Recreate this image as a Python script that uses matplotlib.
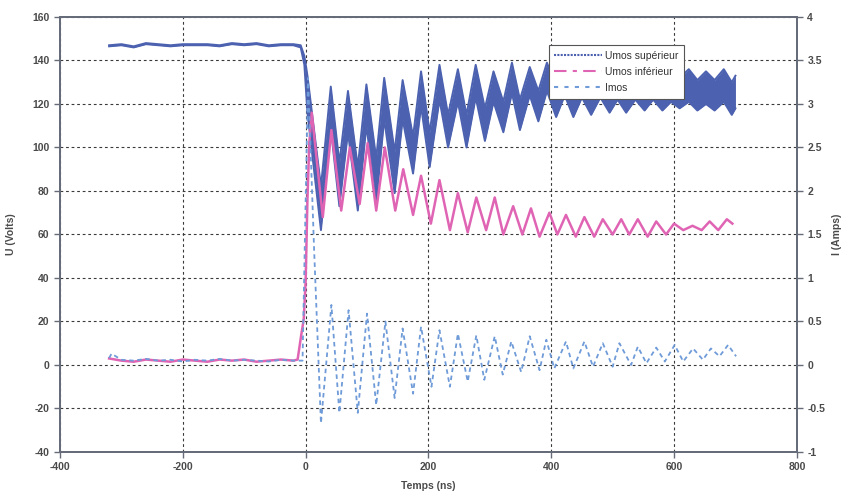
import numpy as np
import matplotlib
matplotlib.use("Agg")
import matplotlib.pyplot as plt
from matplotlib.lines import Line2D
from matplotlib.ticker import FormatStrFormatter

plt.rcParams['font.family'] = ['Liberation Sans', 'DejaVu Sans']
plt.rcParams['axes.unicode_minus'] = False

# Umos supérieur (V): band, upper / lower edge at each extremum
sup_t = [-320, -300, -280, -260, -240, -220, -200, -180, -160, -140, -120, -100, -80, -60, -40, -20, -8, -2,
         3, 25, 41, 55, 69, 85, 99, 115, 128, 145, 158, 175, 188, 202, 218, 232, 248, 262, 277, 292, 306,
         322, 336, 349, 365, 379, 393, 408, 422, 436, 450, 465, 480, 495, 508, 522, 537, 552, 566, 581,
         595, 609, 624, 638, 652, 666, 681, 694, 700]
sup_hi = [147, 147.5, 146.5, 148, 147.5, 147, 147.5, 147.5, 147.5, 147, 148, 147.5, 148, 147, 147.5, 147.5, 147, 142,
          133, 82, 128, 93, 126, 91, 129, 95, 132, 98, 131, 105, 135, 107, 138, 115, 136, 115, 138, 118, 135,
          121, 139, 122, 137, 126, 139, 128, 137, 128, 137, 129, 136, 130, 136, 131, 136, 131, 136, 132,
          135, 132, 136, 131, 135, 131, 136, 130, 133]
sup_lo = [146.5, 147, 146, 147.5, 147, 146.5, 147, 147, 147, 146.5, 147.5, 147, 147.5, 146.5, 147, 147, 146, 138,
          116, 62, 109, 73, 107, 71, 110, 75, 113, 79, 113, 88, 119, 91, 122, 100, 121, 100, 123, 103, 121,
          107, 125, 108, 124, 112, 126, 114, 124, 114, 123, 115, 123, 116, 122, 116, 122, 117, 122, 117,
          121, 118, 121, 117, 120, 117, 121, 115, 118]

# Umos inférieur (V)
inf_t = [-320, -300, -280, -260, -240, -220, -200, -180, -160, -140, -120, -100, -80, -60, -40, -20, -13, -7, -3,
         0, 3, 6, 10, 28, 42, 58, 72, 88, 101, 115, 129, 146, 159, 175, 188, 204, 218, 235, 248, 264, 278,
         294, 308, 322, 338, 353, 367, 381, 397, 410, 424, 440, 454, 470, 484, 500, 514, 527, 541, 557, 571,
         587, 600, 615, 630, 645, 658, 672, 686, 695]
inf_v = [3, 2, 1.5, 2.5, 2, 1.5, 2.5, 2, 1.5, 2.5, 2, 2.5, 1.5, 2, 2.5, 2, 2.5, 14, 21,
         38, 76, 102, 116, 68, 108, 71, 100, 74, 102, 71, 100, 71, 90, 69, 87, 65, 85, 62, 79, 61, 77,
         62, 77, 60, 73, 60, 72, 59, 70, 60, 69, 59, 68, 59, 67, 60, 67, 60, 67, 59, 66,
         60, 65, 62, 64, 62, 66, 62, 67, 65]

# Imos (A), right axis
imos_t = [-320, -316, -300, -280, -260, -240, -220, -200, -180, -160, -140, -120, -100, -80, -60, -40, -20, -5,
          4, 14, 25, 42, 55, 70, 85, 100, 115, 130, 145, 158, 175, 188, 205, 218, 235, 248, 264, 278, 291,
          308, 321, 335, 351, 365, 381, 392, 405, 424, 436, 454, 468, 484, 500, 511, 530, 541, 555, 571,
          585, 601, 615, 631, 647, 660, 674, 688, 701]
imos_v = [0.08, 0.13, 0.06, 0.05, 0.07, 0.05, 0.06, 0.04, 0.06, 0.05, 0.07, 0.05, 0.06, 0.05, 0.04, 0.06, 0.05, 0.05,
          3.3, 1.3, -0.67, 0.69, -0.55, 0.63, -0.55, 0.59, -0.46, 0.5, -0.38, 0.42, -0.33, 0.44, -0.25, 0.40,
          -0.25, 0.36, -0.19, 0.34, -0.17, 0.33, -0.11, 0.27, -0.08, 0.33, -0.06, 0.29, -0.04, 0.27, -0.04,
          0.27, -0.02, 0.25, -0.02, 0.25, 0.0, 0.21, 0.02, 0.2, 0.04, 0.23, 0.04, 0.19, 0.06, 0.19, 0.1,
          0.23, 0.1]

x_ticks = [-400, -200, 0, 200, 400, 600, 800]
u_ticks = [-40, -20, 0, 20, 40, 60, 80, 100, 120, 140, 160]
i_ticks = [-1, -0.5, 0, 0.5, 1, 1.5, 2, 2.5, 3, 3.5, 4]

c_sup = '#4c62b0'
c_inf = '#e064b4'
c_imos = '#6f9bd8'
c_axis = '#666b7a'
c_text = '#4a4a4a'

fig = plt.figure(figsize=(8.47, 4.98), dpi=100)
ax = fig.add_axes([0.0708, 0.0924, 0.870, 0.8735])
ax2 = ax.twinx()

ax.fill_between(sup_t, sup_lo, sup_hi, color=c_sup, lw=0, zorder=3)
ax.plot(sup_t, sup_hi, color=c_sup, lw=1.4, zorder=3)
ax.plot(sup_t, sup_lo, color=c_sup, lw=1.4, zorder=3)
ax.plot(inf_t, inf_v, color=c_inf, lw=1.8, zorder=4)
ax2.plot(imos_t, imos_v, color=c_imos, lw=1.3, ls=(0, (2.5, 2)), zorder=5)

ax.set_xlim(-400, 800)
ax.set_ylim(-40, 160)
ax2.set_ylim(-1, 4)
ax.set_xticks(x_ticks)
ax.set_yticks(u_ticks)
ax2.set_yticks(i_ticks)
ax2.yaxis.set_major_formatter(FormatStrFormatter('%g'))

ax.grid(True, color='#3a3a3a', lw=0.8, ls=(0, (2.5, 2.5)), zorder=1)
ax.set_axisbelow(True)

for a in (ax, ax2):
    for s in a.spines.values():
        s.set_color(c_axis)
        s.set_linewidth(1.3)
    a.tick_params(colors=c_axis, labelcolor=c_text, labelsize=7.5, length=4, width=1, direction='out')
    for lbl in a.get_xticklabels() + a.get_yticklabels():
        lbl.set_fontweight('bold')

ax.set_xlabel('Temps (ns)', fontsize=7.5, fontweight='bold', color=c_text, labelpad=6)
ax.set_ylabel('U (Volts)', fontsize=7.5, fontweight='bold', color=c_text, labelpad=12)
ax2.set_ylabel('I (Amps)', fontsize=7.5, fontweight='bold', color=c_text, rotation=90, labelpad=5)

handles = [Line2D([], [], color=c_sup, lw=1.5, ls=(0, (1, 0.6))),
           Line2D([], [], color=c_inf, lw=1.5, ls=(0, (6, 3, 2, 3))),
           Line2D([], [], color=c_imos, lw=1.5, ls=(0, (2, 3)))]
leg = ax2.legend(handles, ['Umos supérieur', 'Umos inférieur', 'Imos'],
                 loc='upper left', bbox_to_anchor=(0.663, 0.936), borderaxespad=0, fontsize=7.5,
                 handlelength=4.6, handletextpad=0.3, labelspacing=0.6,
                 borderpad=0.55, fancybox=False, framealpha=1)
leg.get_frame().set_edgecolor('#555555')
leg.get_frame().set_linewidth(0.8)
for t in leg.get_texts():
    t.set_color('#333333')

fig.savefig('out.png', dpi=100, facecolor='white')
